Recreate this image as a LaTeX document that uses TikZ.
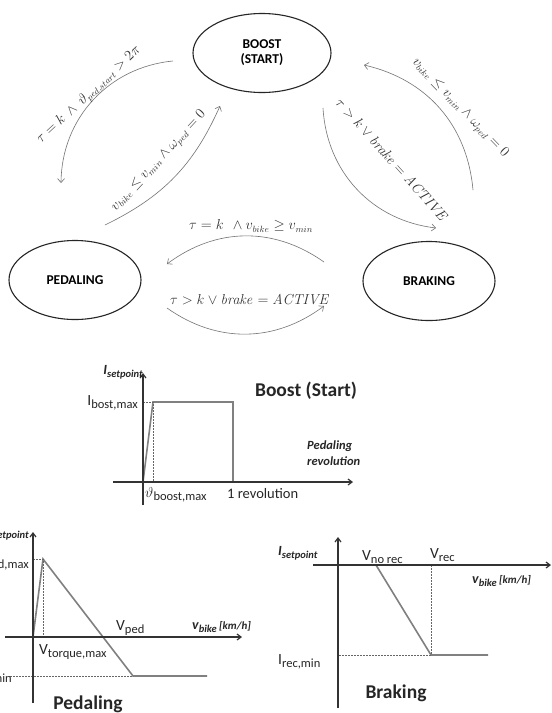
\documentclass[tikz,border=0pt]{standalone}
\usepackage[no-math]{fontspec}
\setmainfont{Carlito}
\usetikzlibrary{arrows.meta,shapes.geometric}
\newcommand\sbx[1]{\raisebox{-0.45ex}{\fontsize{12.5}{14}\selectfont #1}}
\newcommand\sbxs[1]{\raisebox{-0.45ex}{\fontsize{10.5}{12}\selectfont #1}}
\begin{document}
\begin{tikzpicture}[x=1pt,y=1pt,
  state/.style={draw=black!85,ellipse,line width=1.1pt,minimum width=132pt,minimum height=79pt,inner sep=0pt,
    align=center,font=\fontsize{13.5}{15}\selectfont\bfseries},
  trans/.style={draw=black!55,line width=0.6pt,-{Straight Barb[length=4pt,width=7pt]}},
  cond/.style={text=black!80,font=\fontsize{13.5}{15}\selectfont,inner sep=1pt},
  axis/.style={draw=black!80,line width=1.2pt,-{Straight Barb[length=4pt,width=6pt]}},
  curve/.style={draw=black!50,line width=1.6pt},
  guide/.style={draw=black!60,line width=0.6pt,dash pattern=on 1.5pt off 1.5pt},
  lbl/.style={font=\fontsize{15.5}{17}\selectfont,text=black!85,inner sep=0pt},
  ttl/.style={font=\fontsize{19.5}{21}\selectfont\bfseries,text=black!85,inner sep=0pt},
  axl/.style={font=\fontsize{14}{16}\selectfont\bfseries\itshape,text=black!85,inner sep=0pt}]
\useasboundingbox (0,0) rectangle (552,-713);
\fill[white] (0,0) rectangle (552,-713);

% states
\node[state,minimum width=138pt] (boost) at (262,-53) {BOOST\\(START)};
\node[state] (ped) at (75,-280) {PEDALING};
\node[state] (brk) at (429,-281) {BRAKING};

% transition end points
\coordinate (a1s) at (173,-61);  \coordinate (a1e) at (61,-183);
\coordinate (a2s) at (105,-225); \coordinate (a2e) at (220,-106);
\coordinate (a3s) at (473,-190); \coordinate (a3e) at (364,-65);
\coordinate (a4s) at (323,-108); \coordinate (a4e) at (436,-228);
\coordinate (a5s) at (324,-262); \coordinate (a5e) at (167,-264);
\coordinate (a6s) at (167,-308); \coordinate (a6e) at (324,-306);

\draw[trans] (a1s) to[bend right=42] (a1e);
\draw[trans] (a2s) to[bend right=20] (a2e);
\draw[trans] (a3s) to[bend right=36] (a3e);
\draw[trans] (a4s) to[bend right=40] (a4e);
\draw[trans] (a5s) to[bend right=36] (a5e);
\draw[trans] (a6s) to[bend right=36] (a6e);

\node[cond,rotate=43] (l1) at (89,-95) {$\tau = k\ \wedge\ \vartheta_{ped,start} > 2\pi$};
\node[cond,rotate=47] (l2) at (159,-161) {$v_{bike} \leq v_{min} \wedge \omega_{ped} = 0$};
\node[cond,rotate=-46] (l3) at (460,-108) {$v_{bike} \leq v_{min} \wedge \omega_{ped} = 0$};
\node[cond,rotate=-48] (l4) at (392,-160) {$\tau > k \vee \mathit{brake} = \mathit{ACTIVE}$};
\node[cond] (l5) at (251,-226) {$\tau = k\ \ \wedge v_{bike} \geq v_{min}$};
\node[cond] (l6) at (250,-300) {$\tau > k \vee \mathit{brake} = \mathit{ACTIVE}$};

% ---------- Boost chart ----------
\coordinate (bo) at (143,-482);
\coordinate (byb) at (143,-505); \coordinate (byt) at (143,-373);
\coordinate (bxl) at (113,-482); \coordinate (bxr) at (353,-482);
\coordinate (bpk) at (153,-402); \coordinate (bpy) at (143,-402);
\coordinate (bpx) at (153,-482);
\coordinate (brt) at (233,-402); \coordinate (brb) at (233,-482);
\draw[curve] (bo) -- (bpk) -- (brt) -- (brb);
\draw[guide] (bpy) -- (bpk) -- (bpx);
\draw[axis] (bxl) -- (bxr);
\draw[axis] (byb) -- (byt);
\node[axl,anchor=east] (bis) at (143,-372) {I\sbxs{setpoint}};
\node[lbl,anchor=east] (bim) at (138,-403) {I\sbx{bost,max}};
\node[lbl,anchor=west] (bth) at (145,-495) {$\vartheta$\sbx{boost,max}};
\node[lbl,font=\fontsize{14.5}{16}\selectfont,anchor=west] (brv) at (227,-494) {1 revolution};
\node[ttl] (btt) at (306,-391) {Boost (Start)};
\node[axl,font=\fontsize{12.5}{16}\selectfont\bfseries\itshape,align=left,anchor=west] (bpr) at (307,-453) {Pedaling\\revolution};

% ---------- Pedaling chart ----------
\coordinate (po) at (33,-637);
\coordinate (pyb) at (33,-703); \coordinate (pyt) at (33,-532);
\coordinate (pxl) at (5,-637); \coordinate (pxr) at (242,-637);
\coordinate (ppk) at (43,-559); \coordinate (ppy) at (33,-559); \coordinate (ppx) at (43,-637);
\coordinate (pmn) at (133,-676); \coordinate (pend) at (207,-676); \coordinate (pdl) at (10,-676);
\draw[curve] (po) -- (ppk) -- (pmn) -- (pend);
\draw[guide] (ppy) -- (ppk) -- (ppx);
\draw[guide] (pdl) -- (pmn);
\draw[axis] (pxl) -- (pxr);
\draw[axis] (pyb) -- (pyt);
\node[axl,anchor=east] (pis) at (29,-533) {I\sbxs{setpoint}};
\node[lbl,anchor=east] (pim) at (29,-563) {I\sbx{ped,max}};
\node[lbl,anchor=east] (pin) at (12,-677) {I\sbx{ped,min}};
\node[lbl,anchor=west] (pvp) at (116,-628) {V\sbx{ped}};
\node[lbl,anchor=west] (pvt) at (39,-652) {V\sbx{torque,max}};
\node[axl,anchor=west] (pvb) at (192,-627) {v\sbxs{bike}\,{\fontsize{11}{12}\selectfont[km/h]}};
\node[ttl] (ptt) at (88,-704) {Pedaling};

% ---------- Braking chart ----------
\coordinate (ro) at (338,-565);
\coordinate (ryb) at (338,-708); \coordinate (ryt) at (338,-537);
\coordinate (rxl) at (313,-565); \coordinate (rxr) at (551,-565);
\coordinate (rnr) at (376,-565); \coordinate (rmn) at (431,-655); \coordinate (rend) at (488,-655);
\coordinate (rvr) at (431,-565); \coordinate (rdl) at (339,-655);
\draw[curve] (rnr) -- (rmn) -- (rend);
\draw[guide] (rvr) -- (rmn);
\draw[guide] (rdl) -- (rmn);
\draw[axis] (rxl) -- (rxr);
\draw[axis] (ryb) -- (ryt);
\node[axl,anchor=west] (ris) at (278,-553) {I\sbxs{setpoint}};
\node[lbl,anchor=west] (rvn) at (362,-557) {V\sbx{no rec}};
\node[lbl,anchor=west] (rvr2) at (430,-555) {V\sbx{rec}};
\node[lbl,anchor=west] (rin) at (278,-662) {I\sbx{rec,min}};
\node[axl,anchor=west] (rvb) at (472,-581) {v\sbxs{bike}\,{\fontsize{11}{12}\selectfont[km/h]}};
\node[ttl] (rtt) at (396,-693) {Braking};
\end{tikzpicture}
\end{document}
